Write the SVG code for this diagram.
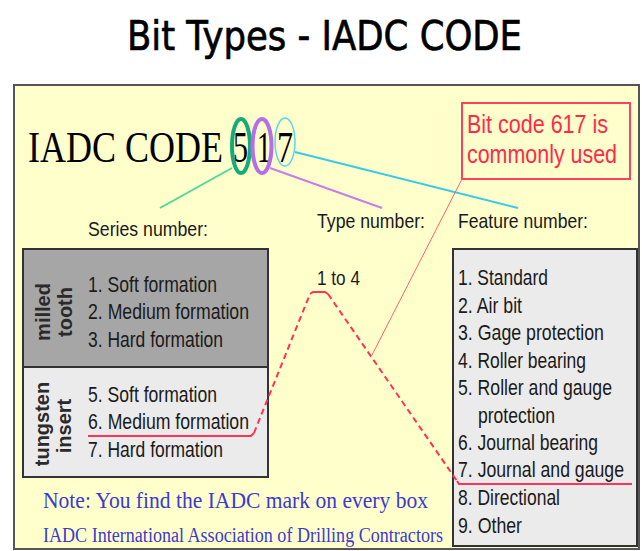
<svg xmlns="http://www.w3.org/2000/svg" width="642" height="551" viewBox="0 0 642 551">
<style>
.sans{font-family:"Liberation Sans",Arial,sans-serif;fill:#1a1a1a}
.serif{font-family:"Liberation Serif","Times New Roman",serif}
.lst{font-size:22px}
.lbl{font-size:21px}
.rot{font-family:"Liberation Sans",Arial,sans-serif;font-size:20px;font-weight:bold;fill:#2a2a2a;text-anchor:middle}
.note{fill:#3b3bcc}
.red{fill:#ff2a4a;font-family:"Liberation Sans",Arial,sans-serif;font-size:26px}
</style>
<rect width="642" height="551" fill="#ffffff"/>
<g id="title">
<text x="127" y="50" font-family="'DejaVu Sans',Verdana,sans-serif" font-size="41" fill="#000" stroke="#000" stroke-width="0.7" textLength="395" lengthAdjust="spacingAndGlyphs">Bit Types - IADC CODE</text>
</g>
<g id="panel">
<rect x="14" y="85" width="625" height="464" fill="#ffffcc" stroke="#555" stroke-width="2"/>
</g>
<g id="code">
<text class="serif" y="162" font-size="45" fill="#000"><tspan x="28" textLength="195" lengthAdjust="spacingAndGlyphs">IADC CODE</tspan><tspan x="233" textLength="15" lengthAdjust="spacingAndGlyphs">5</tspan><tspan x="257" textLength="14" lengthAdjust="spacingAndGlyphs">1</tspan><tspan x="277" textLength="16" lengthAdjust="spacingAndGlyphs">7</tspan></text>
<ellipse cx="241" cy="146" rx="9" ry="27" fill="none" stroke="#14ab78" stroke-width="4"/>
<ellipse cx="262" cy="146" rx="9.5" ry="27" fill="none" stroke="#b66ee8" stroke-width="4"/>
<ellipse cx="285" cy="142" rx="10" ry="24" fill="none" stroke="#5fd3ea" stroke-width="1.5"/>
</g>
<g id="note617">
<rect x="462" y="103" width="168" height="76" fill="none" stroke="#ff4060" stroke-width="2"/>
<text class="red" x="467" y="133" textLength="141" lengthAdjust="spacingAndGlyphs">Bit code 617 is</text>
<text class="red" x="467" y="163" textLength="150" lengthAdjust="spacingAndGlyphs">commonly  used</text>
</g>
<g id="labels">
<text class="sans lbl" x="88" y="236" textLength="120" lengthAdjust="spacingAndGlyphs">Series number:</text>
<text class="sans lbl" x="317" y="228" textLength="108" lengthAdjust="spacingAndGlyphs">Type number:</text>
<text class="sans lbl" x="458" y="228" textLength="130" lengthAdjust="spacingAndGlyphs">Feature number:</text>
<text class="sans lbl" x="317" y="285" textLength="43" lengthAdjust="spacingAndGlyphs">1 to 4</text>
</g>
<g id="series">
<rect x="23" y="249" width="245" height="118" fill="#a6a6a6" stroke="#333" stroke-width="2"/>
<rect x="23" y="367" width="245" height="110" fill="#ebebeb" stroke="#333" stroke-width="2"/>
<text class="rot" transform="translate(50,312) rotate(-90)">milled</text>
<text class="rot" transform="translate(72,312) rotate(-90)">tooth</text>
<text class="rot" transform="translate(49,424) rotate(-90)">tungsten</text>
<text class="rot" transform="translate(71,426) rotate(-90)">insert</text>
<text class="sans lst" x="88" y="292" textLength="129" lengthAdjust="spacingAndGlyphs">1. Soft formation</text>
<text class="sans lst" x="88" y="319" textLength="161" lengthAdjust="spacingAndGlyphs">2. Medium formation</text>
<text class="sans lst" x="88" y="347" textLength="135" lengthAdjust="spacingAndGlyphs">3. Hard formation</text>
<text class="sans lst" x="88" y="402" textLength="129" lengthAdjust="spacingAndGlyphs">5. Soft formation</text>
<text class="sans lst" x="88" y="429" textLength="161" lengthAdjust="spacingAndGlyphs">6. Medium formation</text>
<text class="sans lst" x="88" y="457" textLength="135" lengthAdjust="spacingAndGlyphs">7. Hard formation</text>
</g>
<g id="features">
<rect x="453" y="249" width="184" height="297" fill="#ebebeb" stroke="#333" stroke-width="2"/>
<text class="sans lst" x="458" y="285" textLength="90" lengthAdjust="spacingAndGlyphs">1. Standard</text>
<text class="sans lst" x="458" y="313" textLength="64" lengthAdjust="spacingAndGlyphs">2. Air bit</text>
<text class="sans lst" x="458" y="340" textLength="146" lengthAdjust="spacingAndGlyphs">3. Gage protection</text>
<text class="sans lst" x="458" y="368" textLength="128" lengthAdjust="spacingAndGlyphs">4. Roller bearing</text>
<text class="sans lst" x="458" y="395" textLength="154" lengthAdjust="spacingAndGlyphs">5. Roller and gauge</text>
<text class="sans lst" x="478" y="423" textLength="77" lengthAdjust="spacingAndGlyphs">protection</text>
<text class="sans lst" x="458" y="450" textLength="140" lengthAdjust="spacingAndGlyphs">6. Journal bearing</text>
<text class="sans lst" x="458" y="477" textLength="166" lengthAdjust="spacingAndGlyphs">7. Journal and gauge</text>
<text class="sans lst" x="458" y="505" textLength="102" lengthAdjust="spacingAndGlyphs">8. Directional</text>
<text class="sans lst" x="458" y="533" textLength="64" lengthAdjust="spacingAndGlyphs">9. Other</text>
</g>
<g id="footer">
<text class="serif note" x="43" y="508" font-size="24" textLength="385" lengthAdjust="spacingAndGlyphs">Note: You find  the IADC mark  on every  box</text>
<text class="serif note" x="43" y="542" font-size="20" textLength="400" lengthAdjust="spacingAndGlyphs">IADC  International Association of Drilling  Contractors</text>
</g>
<g id="connectors" fill="none">
<line x1="232" y1="168" x2="160" y2="208" stroke="#4dd99a" stroke-width="2"/>
<line x1="270" y1="168" x2="382" y2="208" stroke="#c77ee8" stroke-width="2"/>
<line x1="295" y1="152" x2="518" y2="208" stroke="#3cc8e8" stroke-width="2"/>
<line x1="462" y1="179" x2="372" y2="355" stroke="#ff6070" stroke-width="1"/>
<polyline points="88,436 251,436 254,433" stroke="#ff3355" stroke-width="2"/>
<path d="M254,433 L310,294" stroke="#ff3355" stroke-width="2" stroke-dasharray="6,4"/>
<polyline points="310,294 313,292 325,292 328,294" stroke="#ff3355" stroke-width="2"/>
<path d="M328,294 L457,481" stroke="#ff3355" stroke-width="2" stroke-dasharray="6,4"/>
<polyline points="457,481 459,484 632,484" stroke="#ff3355" stroke-width="2"/>
</g>
</svg>
